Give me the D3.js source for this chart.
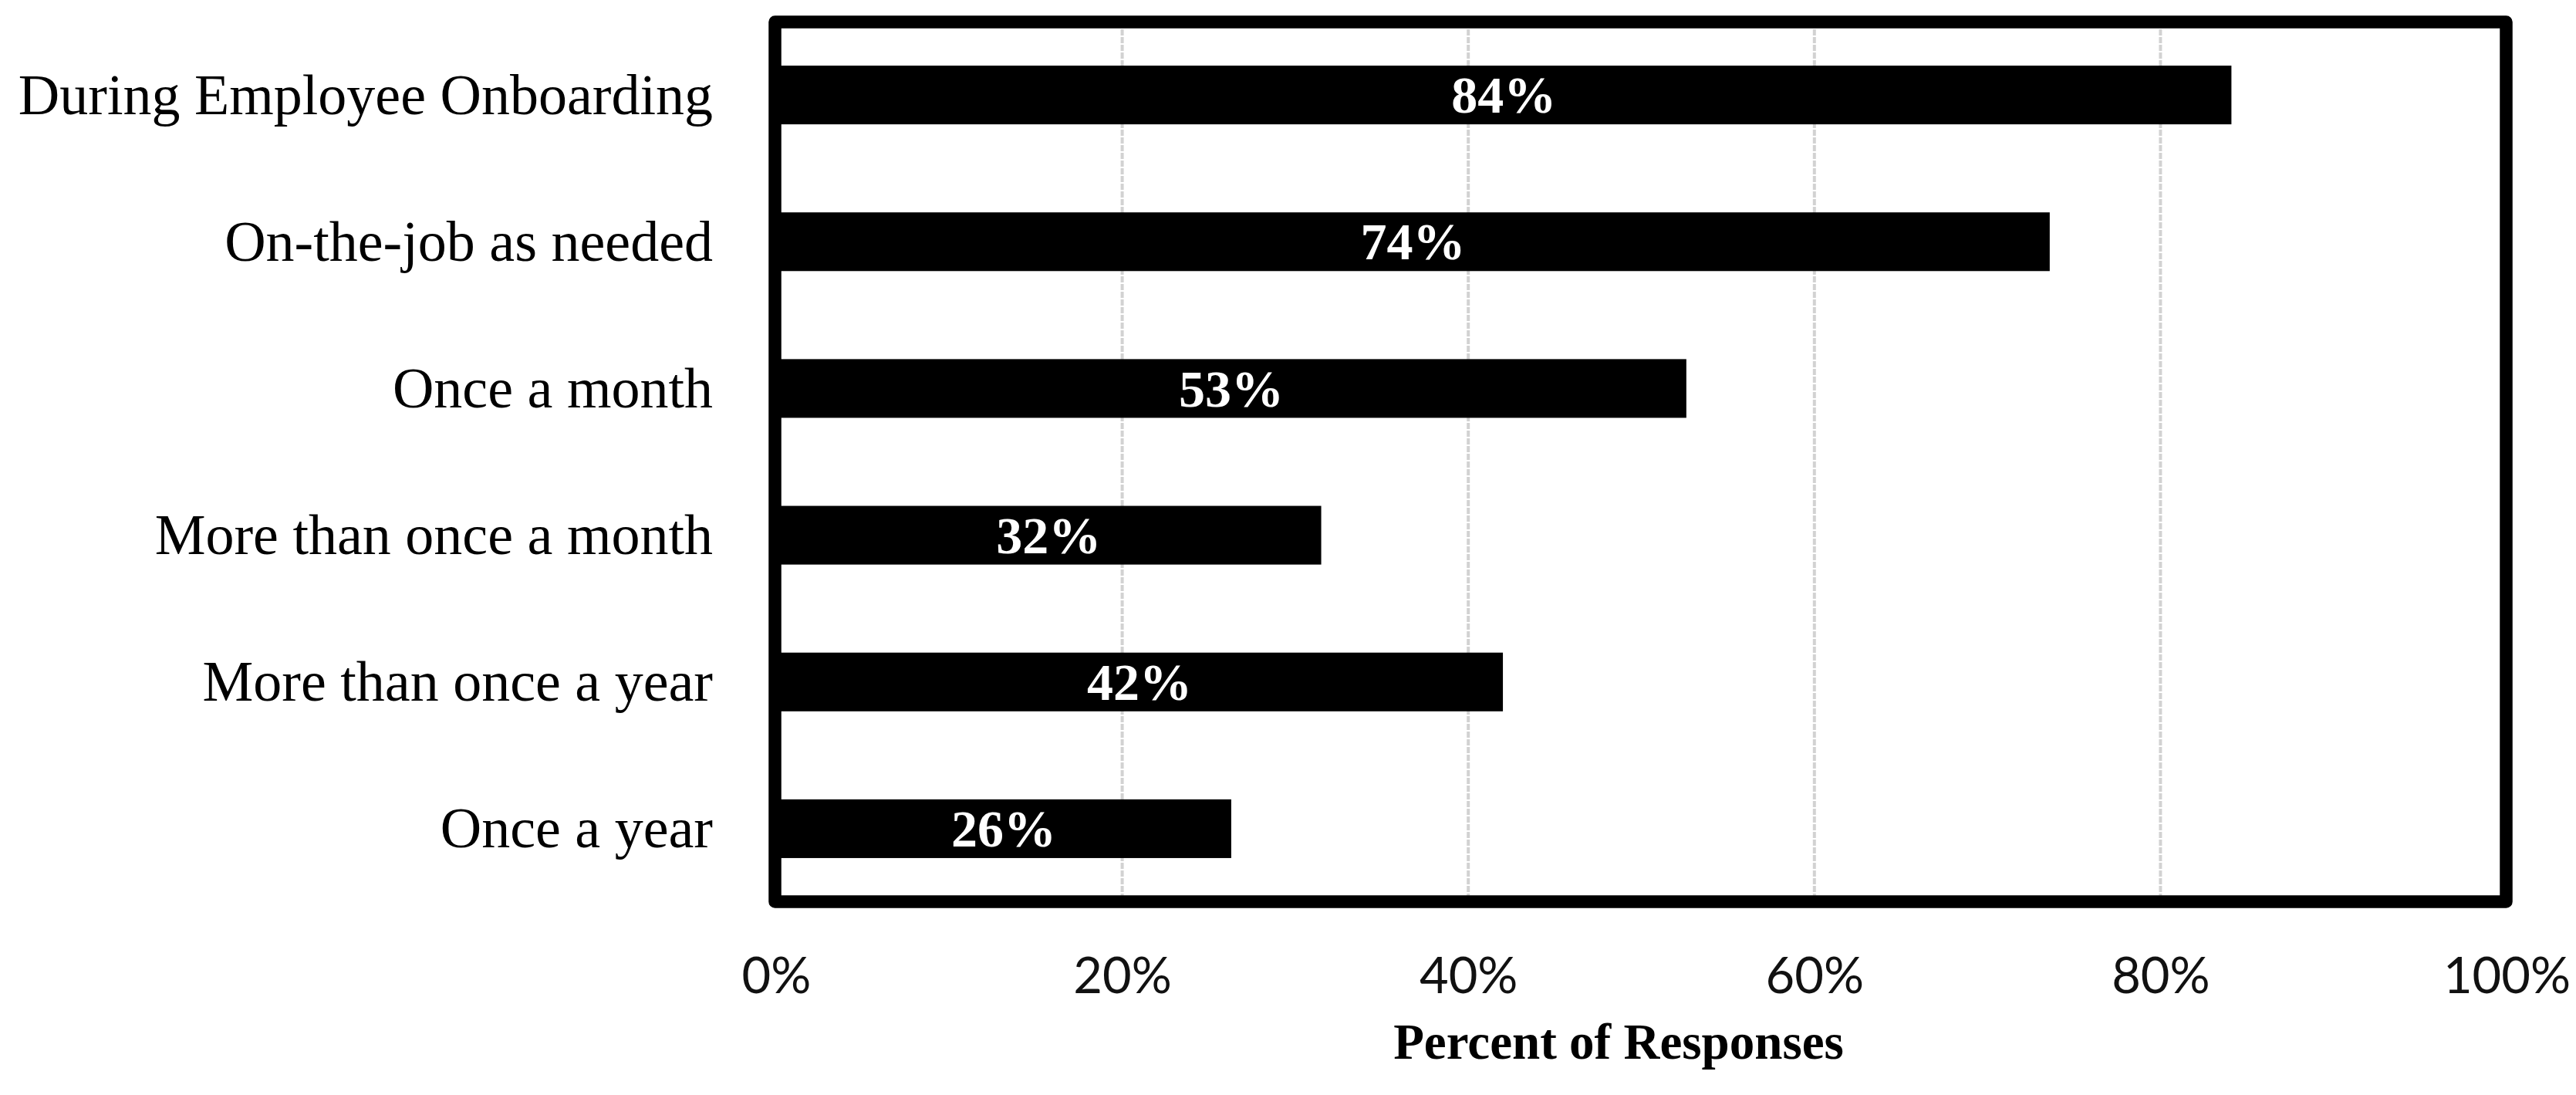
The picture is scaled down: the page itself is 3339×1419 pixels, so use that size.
<!DOCTYPE html>
<html>
<head>
<meta charset="utf-8">
<script src="https://cdn.jsdelivr.net/npm/d3@7"></script>
<style>
  html, body { margin: 0; padding: 0; background: #fff; }
  svg { display: block; }
</style>
</head>
<body>
<svg id="chart" width="3339" height="1419"></svg>
<script>
const categories = [
  "During Employee Onboarding",
  "On-the-job as needed",
  "Once a month",
  "More than once a month",
  "More than once a year",
  "Once a year"
];
const values = [84.1, 73.6, 52.6, 31.5, 42.0, 26.3];
const valueLabels = ["84%", "74%", "53%", "32%", "42%", "26%"];
const xTicks = [0, 20, 40, 60, 80, 100];
const xTitle = "Percent of Responses";

const svg = d3.select("#chart");
const plotLeft = 1006, plotRight = 3249, plotTop = 28, plotBottom = 1169;

const x = d3.scaleLinear().domain([0, 100]).range([plotLeft, plotRight]);
const y = d3.scaleBand().domain(categories).range([plotTop, plotBottom])
  .paddingInner(0.6).paddingOuter(0.3);

// gridlines
svg.append("g").selectAll("line")
  .data(xTicks.filter(d => d > 0 && d < 100))
  .join("line")
  .attr("x1", d => x(d)).attr("x2", d => x(d))
  .attr("y1", plotTop).attr("y2", plotBottom)
  .attr("stroke", "#d2d2d2")
  .attr("stroke-width", 4)
  .attr("stroke-dasharray", "8 2");

// bars
svg.append("g").selectAll("rect")
  .data(categories)
  .join("rect")
  .attr("x", x(0))
  .attr("y", d => y(d))
  .attr("width", (d, i) => x(values[i]) - x(0))
  .attr("height", y.bandwidth())
  .attr("fill", "#000");

// value labels
svg.append("g").selectAll("text")
  .data(categories)
  .join("text")
  .attr("x", (d, i) => (x(0) + x(values[i])) / 2)
  .attr("y", d => y(d) + y.bandwidth() / 2)
  .attr("dy", "0.34em")
  .attr("text-anchor", "middle")
  .attr("fill", "#fff")
  .attr("font-family", "'Liberation Serif', serif")
  .attr("font-weight", "bold")
  .attr("font-size", 68)
  .text((d, i) => valueLabels[i]);

// frame
svg.append("rect")
  .attr("x", 1004.5).attr("y", 28.5)
  .attr("width", 3248.5 - 1004.5).attr("height", 1168.5 - 28.5)
  .attr("fill", "none")
  .attr("stroke", "#000")
  .attr("stroke-width", 16.5)
  .attr("stroke-linejoin", "round");

// y axis (category labels)
const yAxis = svg.append("g")
  .attr("transform", `translate(${plotLeft},0)`)
  .call(d3.axisLeft(y).tickSize(0).tickPadding(82));
yAxis.select(".domain").remove();
yAxis.selectAll("text")
  .attr("font-family", "'Liberation Serif', serif")
  .attr("font-size", 74)
  .attr("fill", "#000")
  .attr("dy", "0.33em");

// x axis
const xAxis = svg.append("g")
  .attr("transform", `translate(0,${plotBottom})`)
  .call(d3.axisBottom(x).tickValues(xTicks).tickSize(0).tickPadding(72)
    .tickFormat(d => d + "%"));
xAxis.select(".domain").remove();
xAxis.selectAll("text")
  .attr("font-family", "Lato, sans-serif")
  .attr("font-size", 65)
  .attr("fill", "#111");

// x title
svg.append("text")
  .attr("x", 2098)
  .attr("y", 1372)
  .attr("text-anchor", "middle")
  .attr("font-family", "'Liberation Serif', serif")
  .attr("font-weight", "bold")
  .attr("font-size", 65)
  .attr("fill", "#000")
  .text(xTitle);
</script>
</body>
</html>
